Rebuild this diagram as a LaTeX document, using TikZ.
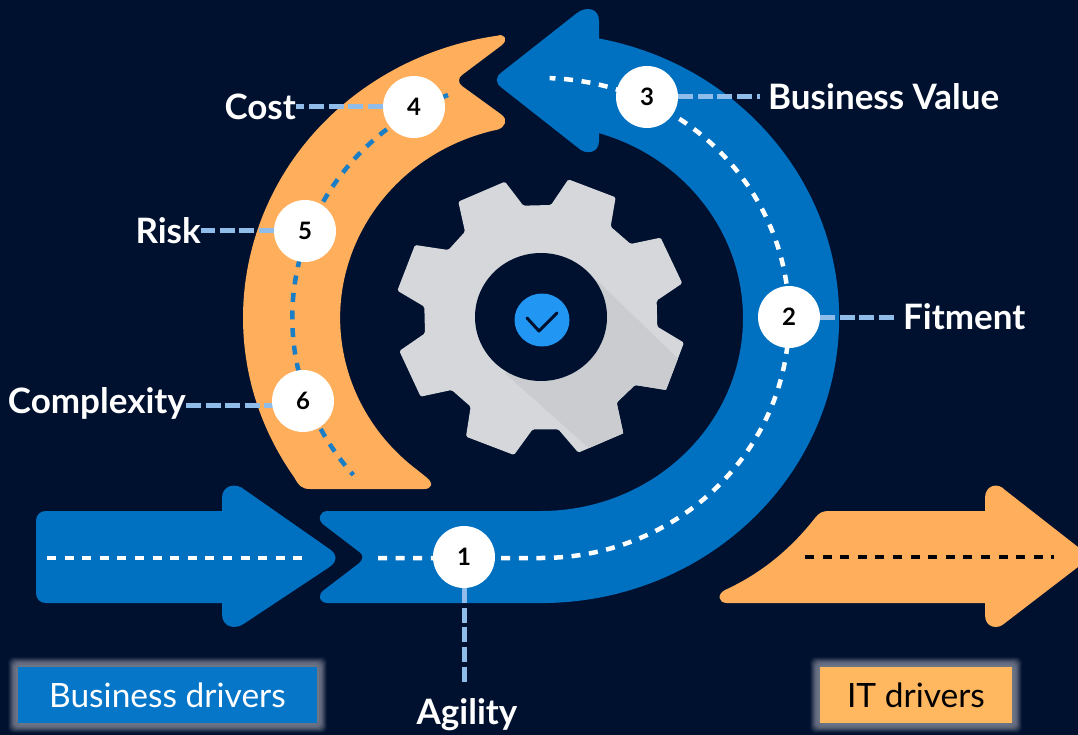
\documentclass[tikz,border=0pt]{standalone}
\usepackage{fontspec}
\setmainfont{Lato}
\usetikzlibrary{calc}
\definecolor{bgc}{HTML}{00112F}
\definecolor{bluec}{HTML}{0070C0}
\definecolor{boxblue}{HTML}{0676C9}
\definecolor{boxorange}{HTML}{FFB760}
\definecolor{orangec}{HTML}{FFAE5C}
\definecolor{linkc}{HTML}{8FBCE8}
\definecolor{gearc}{HTML}{D6D7DB}
\definecolor{gearsh}{HTML}{CBCCD0}
\definecolor{checkc}{HTML}{2196F3}
\definecolor{glowc}{HTML}{767C8E}
\pgfdeclarelayer{bg}
\pgfsetlayers{bg,main}
\tikzset{
  numdot/.style={circle,fill=white,minimum size=62pt,inner sep=0pt,font=\fontsize{24}{24}\selectfont\bfseries,text=black},
  lab/.style={inner sep=0pt,text=white,font=\fontsize{35}{35}\selectfont\bfseries},
  conn/.style={draw=linkc,line width=5pt,dash pattern=on 15pt off 4.6pt},
  flow/.style={line width=4.5pt,dash pattern=on 9pt off 8.6pt},
  legend/.style={minimum width=299pt,minimum height=56pt,inner sep=0pt,font=\fontsize{33.5}{33.5}\selectfont},
}
\newcommand{\gearpath}{(430,107) -- (375,35) -- (235,95) -- (255,185) -- (205,240) -- (105,225) -- (52,362) -- (133,410) -- (135,490) -- (58,543) -- (122,680) -- (215,660) -- (272,710) -- (258,800) -- (402,855) -- (458,778) -- (535,778) -- (595,848) -- (730,790) -- (710,698) -- (765,645) -- (858,660) -- (912,518) -- (832,470) -- (830,392) -- (907,340) -- (842,203) -- (752,222) -- (692,170) -- (707,82) -- (565,28) -- (513,105) -- cycle}
\begin{document}
\begin{tikzpicture}[x=1pt,y=-1pt]
\useasboundingbox (0,0) rectangle (1078,735);
\clip (0,0) rectangle (1078,735);
% nodes
\node[numdot] (n1) at (464,557) {1};
\node[numdot] (n2) at (789,317) {2};
\node[numdot] (n3) at (647,97) {3};
\node[numdot] (n4) at (414,107) {4};
\node[numdot] (n5) at (305,231) {5};
\node[numdot] (n6) at (303,401) {6};
\node[lab] (lA) at (467,715) {Agility};
\node[lab,anchor=west] (lF) at (903,317) {Fitment};
\node[lab,anchor=west] (lB) at (768,97) {Business Value};
\node[lab,anchor=east] (lC) at (296,107) {Cost};
\node[lab,anchor=east] (lR) at (201,231) {Risk};
\node[lab,anchor=east] (lX) at (186,403) {Complexity};
\node[legend,fill=boxblue,text=white] (bd) at (167.5,695) {Business drivers};
\node[legend,minimum width=192pt,fill=boxorange,text=black] (it) at (916,695) {IT drivers};
\begin{pgfonlayer}{bg}
\fill[bgc] (0,0) rectangle (1078,735);
% legend glow
\foreach \m/\c in {10/8,9/20,8/35,7/50,6/65,5/75,4/85,2/92}{
  \fill[glowc!\c!bgc,rounded corners=6pt] ($(bd.north west)+(-\m,-\m)$) rectangle ($(bd.south east)+(\m,\m)$);
  \fill[glowc!\c!bgc,rounded corners=6pt] ($(it.north west)+(-\m,-\m)$) rectangle ($(it.south east)+(\m,\m)$);
}
% gear
\begin{scope}[shift={(380,170)},x=0.3333pt,y=-0.3333pt]
  \fill[gearc,rounded corners=1.5pt] \gearpath;
  \begin{scope}
    \clip \gearpath;
    \fill[gearsh] (650,330) -- (960,630) -- (700,900) -- (375,610) -- cycle;
  \end{scope}
\end{scope}
\fill[bgc] (541,317) ellipse[x radius=66,y radius=64];
\fill[checkc] (542,320) ellipse[x radius=27.5,y radius=26.5];
\draw[bgc,line width=3pt,line cap=round,line join=round] (527,318) -- (539,331) -- (557,313);
% orange C
\fill[orangec] (294,477) arc[start angle=-214,end angle=-98.5,x radius=298,y radius=285]
  .. controls (505,33) and (508,40) .. (502,45) -- (462,75)
  .. controls (458,78) and (458,83) .. (462,86) -- (502,115)
  .. controls (508,120) and (505,127) .. (498,129.5)
  arc[start angle=-102.4,end angle=-232,x radius=201,y radius=193]
  -- (426,477) .. controls (434,483) and (432,489) .. (424,489) -- (310,489)
  .. controls (302,489) and (299,486) .. (294,477) -- cycle;
\draw[bluec!90!white,flow] (448,95) arc[start angle=-112,end angle=-221,x radius=249,y radius=240];
% blue arc arrow
\fill[bluec] (541,511) arc[start angle=90,end angle=-73.3,x radius=202,y radius=193]
  -- (599,141) .. controls (599,153) and (586,156) .. (577,147) -- (502,88)
  .. controls (495,83) and (495,77) .. (502,72) -- (577,13)
  .. controls (586,6) and (599,8) .. (599,21) -- (599,38.5)
  arc[start angle=-78.8,end angle=90,x radius=298,y radius=285]
  -- (328,603) .. controls (319,603) and (317,595) .. (324,590) -- (358,564)
  .. controls (364,559) and (364,555) .. (358,551) -- (324,525)
  .. controls (317,520) and (319,511) .. (328,511) -- cycle;
\draw[white,flow] (378,558) -- (541,558) arc[start angle=90,end angle=-88,x radius=248,y radius=240];
% left arrow
\fill[bluec] (46,511) -- (222,511) -- (222,498) .. controls (222,485) and (236,482) .. (245,490)
  -- (328,548) .. controls (338,554) and (338,562) .. (328,568) -- (245,623)
  .. controls (236,630) and (222,628) .. (222,614) -- (222,603) -- (46,603)
  .. controls (40,603) and (36,599) .. (36,593) -- (36,521) .. controls (36,515) and (40,511) .. (46,511) -- cycle;
\draw[white,flow] (47,558) -- (303,558);
% right arrow
\fill[orangec] (985,511) -- (985,498) .. controls (985,485) and (998,482) .. (1005,490)
  -- (1078,547) .. controls (1090,555) and (1090,560) .. (1078,567) -- (1005,623)
  .. controls (998,630) and (985,628) .. (985,615) -- (985,603) -- (727,603)
  .. controls (718,603) and (717,594) .. (725,590) .. controls (760,574) and (790,550) .. (815,518)
  .. controls (819,513) and (822,511) .. (829,511) -- cycle;
\draw[black!85!bgc,flow] (805,557) -- (1054,557);
% connectors
\draw[conn,shorten >=15pt] (n1.south) -- (n1.south |- lA.north);
\draw[conn,shorten >=8pt] (n2.east) -- (n2.east -| lF.west);
\draw[conn,shorten >=8pt] (n3.east) -- (n3.east -| lB.west);
\draw[conn] (n4.west) -- (n4.west -| lC.east);
\draw[conn] (n5.west) -- (n5.west -| lR.east);
\coordinate (x6) at ($(lX.east)+(0,2)$);
\draw[conn,shorten >=-3pt] (x6) -- (x6 -| n6.west);
\end{pgfonlayer}
\end{tikzpicture}
\end{document}
